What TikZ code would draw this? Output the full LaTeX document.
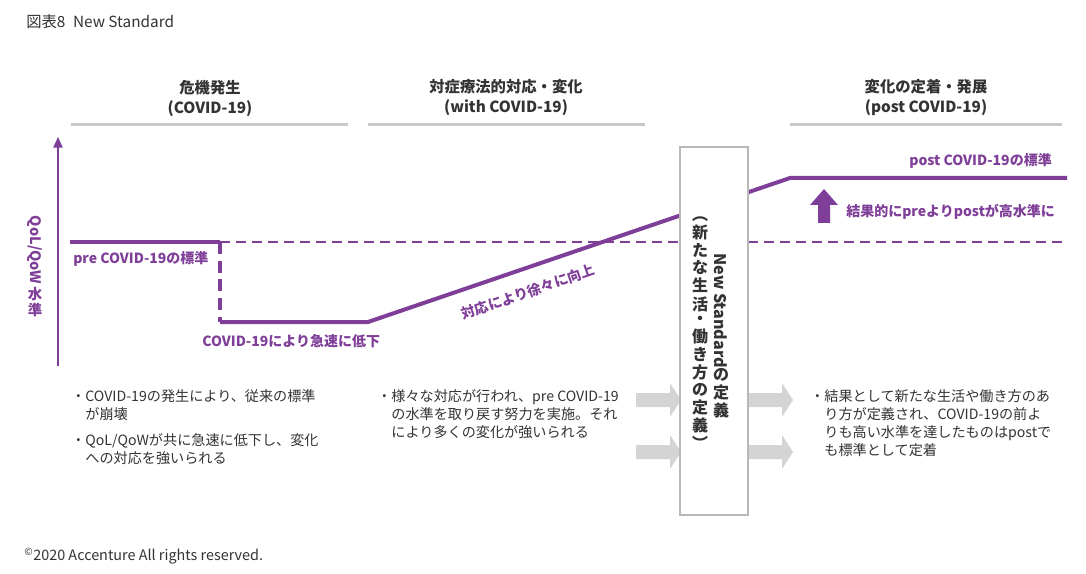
\documentclass[tikz,border=0pt]{standalone}
\usepackage{fontspec}
\setmainfont{Noto Sans CJK JP}
\usepackage{graphicx}
\usetikzlibrary{arrows.meta}

\definecolor{covidpurple}{HTML}{7F3F98}
\definecolor{textgray}{HTML}{333333}
\definecolor{rulegray}{HTML}{C8C8C8}
\definecolor{arrowgray}{HTML}{D4D4D4}
\definecolor{boxgray}{HTML}{B8B8B8}

% vertical (tategaki) column of characters
\newcommand{\tatestack}[1]{{\renewcommand{\arraystretch}{0.82}\begin{tabular}{@{}c@{}}#1\end{tabular}}}

\begin{document}
\begin{tikzpicture}[
    x=0.75pt, y=-0.75pt,
    >=Latex,
    head style/.style={font=\bfseries\fontsize{11.5}{15}\selectfont, text=textgray, align=center, inner sep=0pt},
    rule style/.style={line width=2.25pt, rulegray},
    level style/.style={line width=3pt, covidpurple, line join=round},
    drop style/.style={line width=3pt, covidpurple, dash pattern=on 9pt off 5pt},
    base style/.style={line width=1.5pt, covidpurple, dash pattern=on 7.5pt off 4.5pt},
    purple label/.style={font=\bfseries\fontsize{10.5}{12}\selectfont, text=covidpurple, inner sep=0pt},
    note style/.style={font=\fontsize{10.6}{13.5}\selectfont, text=textgray, align=left, inner sep=0pt, anchor=north west},
    arrow block/.style={fill=arrowgray}
]
\useasboundingbox (0,0) rectangle (1086,574);

% Title and copyright
\node[anchor=west, inner sep=0pt, text=textgray, font=\fontsize{11.5}{13}\selectfont] (title) at (26,22) {図表8\enspace New Standard};
\node[anchor=west, inner sep=0pt, text=textgray, font=\fontsize{10.8}{12}\selectfont] (copyright) at (24,556) {\textsuperscript{©}2020 Accenture All rights reserved.};

% Draw the phase headers
\node[head style] (head crisis) at (210,98) {危機発生\\(COVID-19)};
\node[head style] (head with) at (506,98) {対症療法的対応・変化\\(with COVID-19)};
\node[head style] (head post) at (926,98) {変化の定着・発展\\(post COVID-19)};
\draw[rule style] (71,125) -- (348,125);
\draw[rule style] (368,125) -- (645,125);
\draw[rule style] (790,125) -- (1062,125);

% Draw the axis
\coordinate (axis foot) at (58,366);
\coordinate (axis top) at (58,137);
\draw[line width=1.2pt, covidpurple, -{Triangle[width=7pt,length=8pt]}] (axis foot) -- (axis top);
\node[text=covidpurple, font=\bfseries\fontsize{10.8}{12.5}\selectfont, inner sep=0pt] (axis label) at (35,263)
    {\tatestack{\rotatebox{-90}{QoL/QoW\,}\\水\\準}};

% Define the level path
\coordinate (pre start) at (70,242);
\coordinate (drop top) at (220,242);
\coordinate (drop bottom) at (220,322);
\coordinate (rise start) at (368,322);
\coordinate (post start) at (790,178);
\coordinate (post end) at (1067,178);
\coordinate (base end) at (1062,242);

\draw[base style] (drop top) -- (base end);
\draw[level style] (pre start) -- (drop top);
\draw[drop style] (drop top) -- (drop bottom);
\draw[level style] (drop bottom) -- (rise start) -- (post start) -- (post end);

% Labels on the levels
\node[purple label, anchor=west] (pre label) at (73,259) {pre COVID-19の標準};
\node[purple label, anchor=west] (drop label) at (202,341) {COVID-19により急速に低下};
\node[purple label, rotate=19] (rise label) at (528,292) {対応により徐々に向上};
\node[purple label, anchor=east] (post label) at (1052,161) {post COVID-19の標準};
\node[purple label, anchor=west] (gain label) at (846,212) {結果的にpreよりpostが高水準に};
\fill[covidpurple] (818,223) -- (818,205) -- (810,205) -- (824,189) -- (838,205) -- (830,205) -- (830,223) -- cycle;

% Gray block arrows into and out of the box
\foreach \ax/\ay in {636/400, 636/452, 748/400, 748/452} {
    \fill[arrow block] (\ax,\ay-7) -- ++(34,0) -- ++(0,-10) -- ++(11,17) -- ++(-11,17) -- ++(0,-10) -- ++(-34,0) -- cycle;
}

% Draw the New Standard box
\draw[line width=1.5pt, boxgray, fill=white] (680,147) rectangle (748,515);
\node[inner sep=0pt, text=textgray, font=\bfseries\fontsize{12}{13.5}\selectfont] (box right) at (721,332)
    {\tatestack{\rotatebox{-90}{New Standard}\\の\\定\\義}};
\node[inner sep=0pt, text=textgray, font=\bfseries\fontsize{12}{13.5}\selectfont] (box left) at (700,332)
    {\tatestack{︵\\新\\た\\な\\生\\活\\・\\働\\き\\方\\の\\定\\義\\︶}};

% Notes under each phase
\node[note style] (note crisis a) at (71,389) {・COVID-19の発生により、従来の標準\\\hphantom{・}が崩壊};
\node[note style] (note crisis b) at (71,433) {・QoL/QoWが共に急速に低下し、変化\\\hphantom{・}への対応を強いられる};
\node[note style] (note with) at (377,389) {・様々な対応が行われ、pre COVID-19\\\hphantom{・}の水準を取り戻す努力を実施。それ\\\hphantom{・}により多くの変化が強いられる};
\node[note style] (note post) at (810,389) {・結果として新たな生活や働き方のあ\\\hphantom{・}り方が定義され、COVID-19の前よ\\\hphantom{・}りも高い水準を達したものはpostで\\\hphantom{・}も標準として定着};
\end{tikzpicture}
\end{document}
